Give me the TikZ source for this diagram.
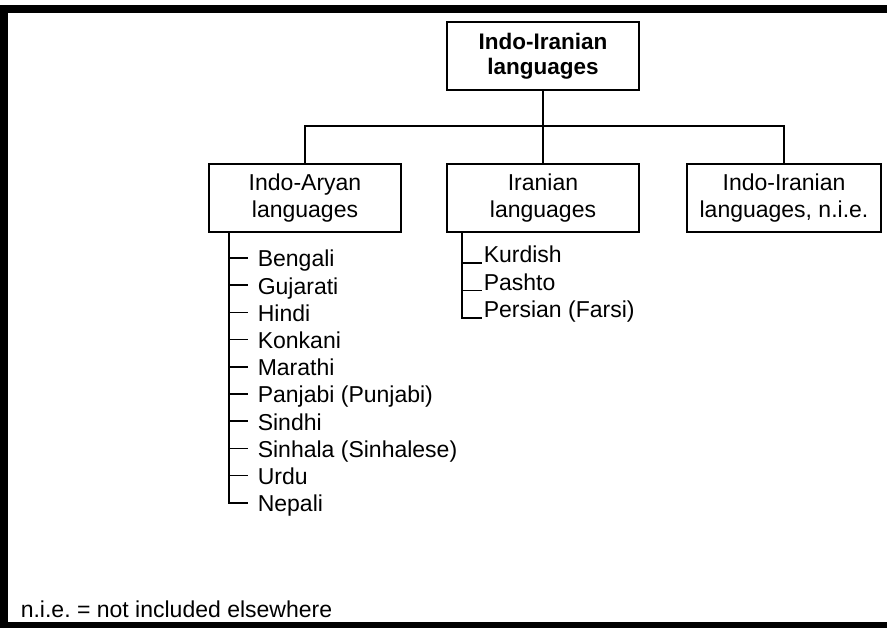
\documentclass[tikz,border=0pt]{standalone}
\usepackage{fontspec}
\setmainfont{Liberation Sans}
\usetikzlibrary{positioning}

\begin{document}
\begin{tikzpicture}[x=1pt,y=-1pt,line width=1.6pt]
        \tikzstyle{langbox}=[draw, align=center, minimum width=192pt, minimum height=68pt, inner sep=0pt, font=\fontsize{23}{26.5}\selectfont]
        \tikzstyle{item}=[anchor=base west, inner sep=0pt, font=\fontsize{23}{26.5}\selectfont]
        \useasboundingbox (0,0) rectangle (887,628);

        % Frame
        \fill (0,5) rectangle (887,13);
        \fill (0,5) rectangle (8,628);
        \fill (0,622) rectangle (887,628);

        % Top node
        \node[langbox, font=\fontsize{22.5}{25}\selectfont\bfseries] (root) at (543,56) {Indo-Iranian\\languages};

        % Branches
        \node[langbox] (aryan) at (305,198) {Indo-Aryan\\languages};
        \node[langbox] (iran) at (543,198) {Iranian\\languages};
        \node[langbox, minimum width=194pt] (nie) at (784,198) {Indo-Iranian\\languages, n.i.e.};

        % Bar between them
        \coordinate (bar) at (543,126);
        \draw (root.south) -- (bar);
        \draw (aryan.north) |- (bar) -| (nie.north);
        \draw (iran.north) -- (bar);

        % Indo-Aryan list
        \coordinate (atop) at (229,232);
        \foreach \lang [count=\i] in {Bengali, Gujarati, Hindi, Konkani, Marathi, {Panjabi (Punjabi)}, Sindhi, {Sinhala (Sinhalese)}, Urdu, Nepali} {
            \node[item] (ia\i) at (257,{267+27.2*(\i-1)}) {\lang};
            \draw (atop) |- ([xshift=-9pt,yshift=9pt]ia\i.base west);
        }

        % Iranian list
        \coordinate (itop) at (462,232);
        \foreach \lang [count=\i] in {Kurdish, Pashto, {Persian (Farsi)}} {
            \node[item] (ir\i) at (483,{263+27.5*(\i-1)}) {\lang};
            \draw (itop) |- ([xshift=-1pt]ir\i.base west);
        }

        % Footnote
        \node[item] (note) at (20,617) {n.i.e.\ = not included elsewhere};
\end{tikzpicture}
\end{document}
